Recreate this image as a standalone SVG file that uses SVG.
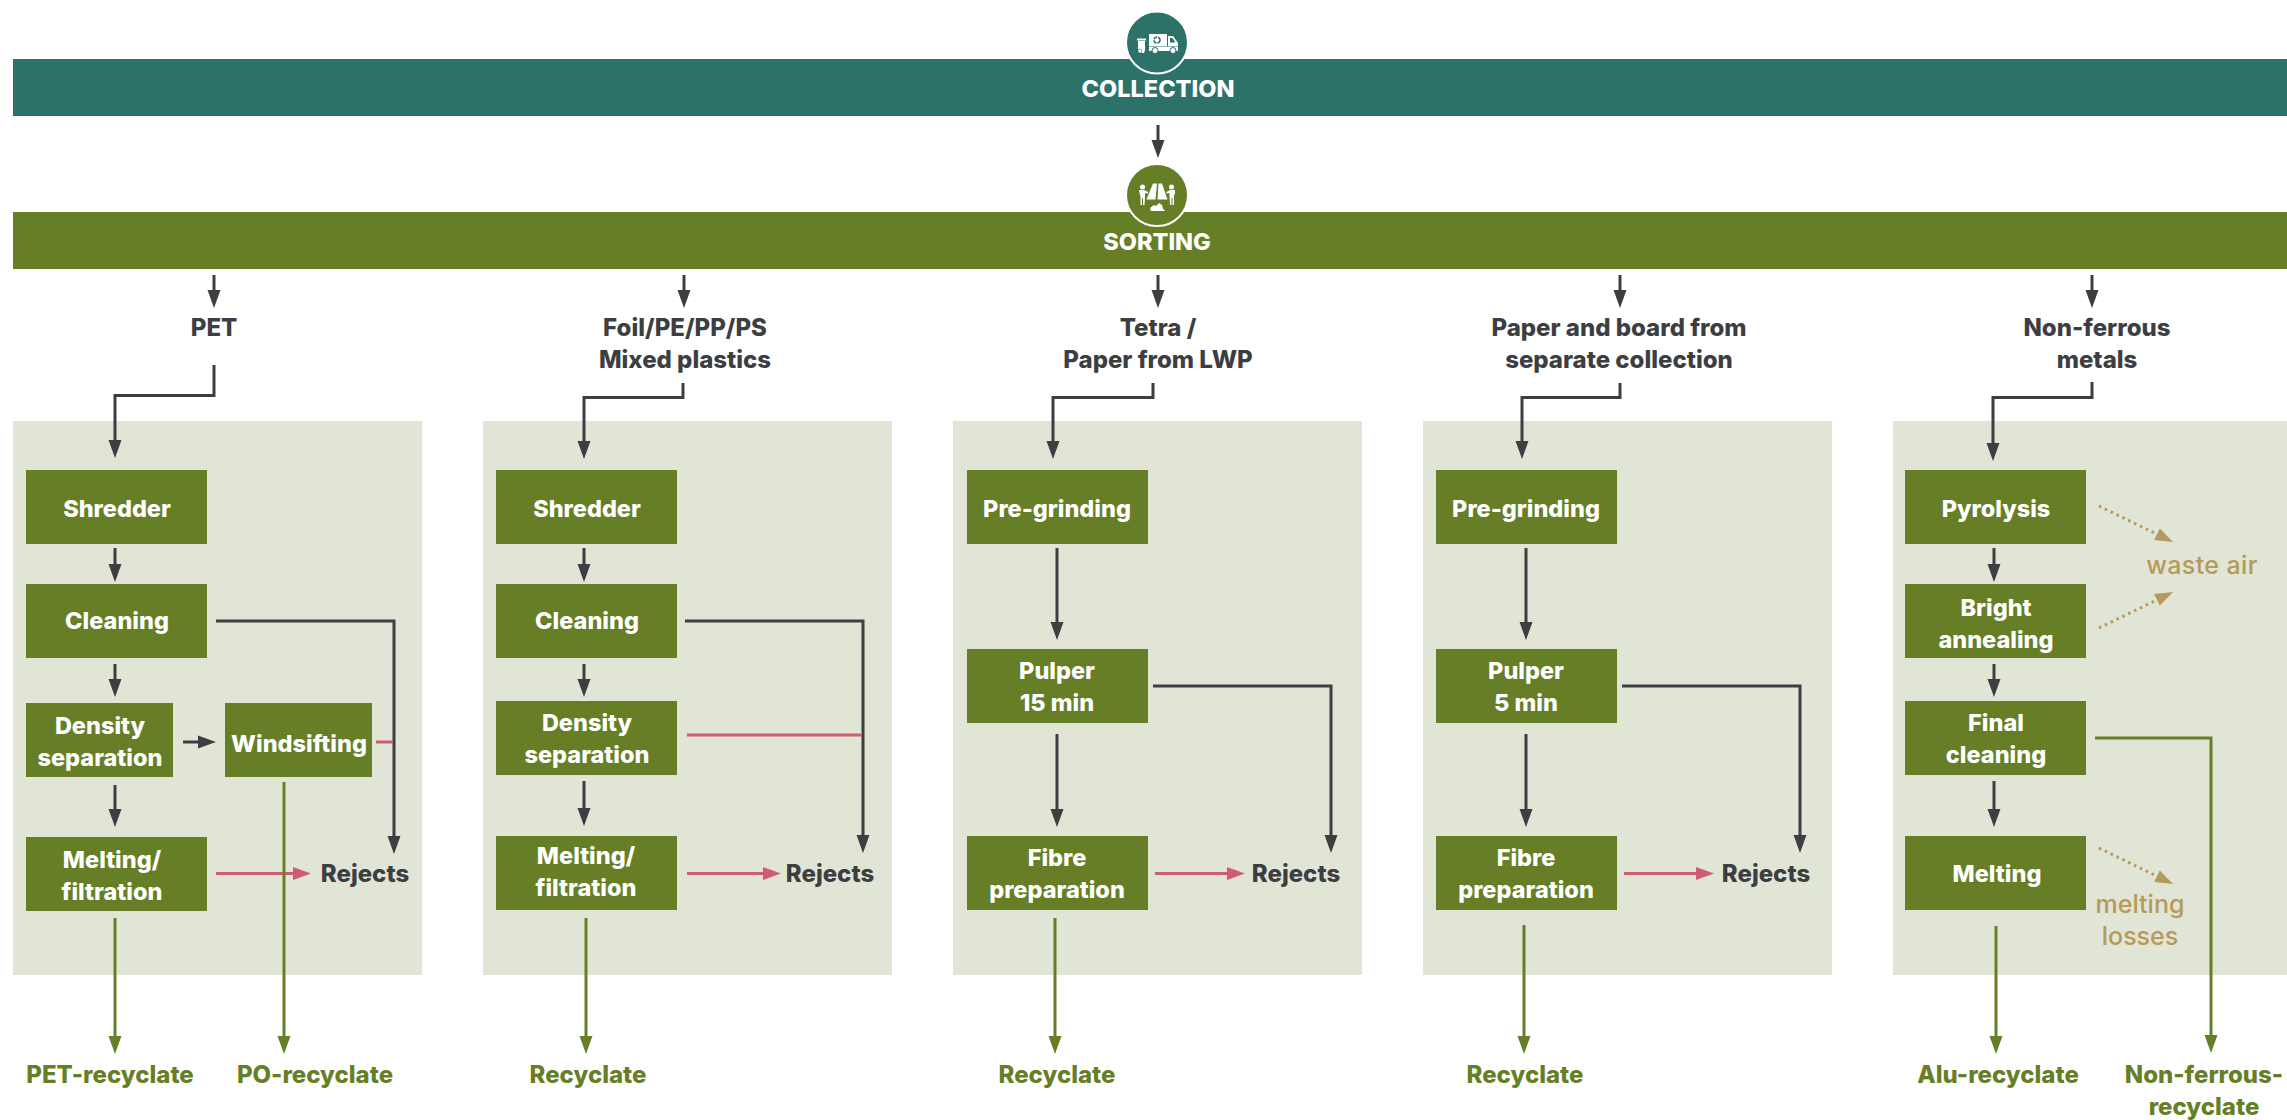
<svg xmlns="http://www.w3.org/2000/svg" width="2287" height="1120" viewBox="0 0 2287 1120">
<style>
text{font-family:"Inter","Liberation Sans",sans-serif;font-weight:800;font-size:23.500px;text-anchor:middle}
.w{fill:#fff}.d{fill:#3d3e42;font-size:24px}.g{fill:#667f26;font-size:24px}.r{fill:#b59a5b;font-weight:500;font-size:25px}
.b{fill:#667f26}.p{fill:#e1e5d5}
.cd,.cg,.cp,.ct{fill:none;stroke-width:3}
.cd{stroke:#3d3e42;marker-end:url(#ad)}
.cg{stroke:#667f26;marker-end:url(#ag)}
.cp{stroke:#cf5c76;marker-end:url(#ap)}.cpn{stroke:#cf5c76;fill:none;stroke-width:3}
.ct{stroke:#b59a5b;stroke-dasharray:2.5 4;marker-end:url(#at)}
</style>
<defs>
<marker id="ad" markerUnits="userSpaceOnUse" markerWidth="20" markerHeight="14" refX="2" refY="7" orient="auto"><path d="M0,0.5L18,7L0,13.5z" fill="#3d3e42"/></marker>
<marker id="ag" markerUnits="userSpaceOnUse" markerWidth="20" markerHeight="14" refX="2" refY="7" orient="auto"><path d="M0,0.5L18,7L0,13.5z" fill="#667f26"/></marker>
<marker id="ap" markerUnits="userSpaceOnUse" markerWidth="20" markerHeight="14" refX="2" refY="7" orient="auto"><path d="M0,0.5L18,7L0,13.5z" fill="#cf5c76"/></marker>
<marker id="at" markerUnits="userSpaceOnUse" markerWidth="20" markerHeight="14" refX="2" refY="7" orient="auto"><path d="M0,0.5L18,7L0,13.5z" fill="#b59a5b"/></marker>
</defs>
<rect width="2287" height="1120" fill="#fff"/>
<g id="panels">
<rect class="p" x="13" y="421" width="409" height="554"/>
<rect class="p" x="483" y="421" width="409" height="554"/>
<rect class="p" x="953" y="421" width="409" height="554"/>
<rect class="p" x="1423" y="421" width="409" height="554"/>
<rect class="p" x="1893" y="421" width="394" height="554"/>
</g>
<g id="collection">
<rect x="13" y="59" width="2274" height="57" fill="#2d7268"/>
<circle cx="1157" cy="42.500" r="31" fill="#2d7268" stroke="#fff" stroke-width="2"/>
<g fill="#fff">
<path d="M1137,38.500h9v2h-9zM1138,41h7v9l-1,3h-5l-1,-3z"/>
<path d="M1149,34h18v12h-18zM1149,46.500h29v4.500h-29z"/>
<path d="M1168,36h5l5,7v3h-10z"/>
</g>
<path d="M1170,38h2.500l3,4.500h-5.500z" fill="#2d7268"/>
<circle cx="1157" cy="40" r="3" fill="none" stroke="#2d7268" stroke-width="1.500" stroke-dasharray="4 1"/>
<circle cx="1155" cy="50.500" r="3" fill="#fff" stroke="#2d7268"/><circle cx="1173" cy="50.500" r="3" fill="#fff" stroke="#2d7268"/>
<circle cx="1140" cy="51" r="2" fill="#fff" stroke="#2d7268" stroke-width=".6"/>
<text class="w" x="1158" y="97">COLLECTION</text>
</g>
<g id="sorting">
<rect x="13" y="212" width="2274" height="57" fill="#667f26"/>
<circle cx="1157" cy="195" r="31" fill="#667f26" stroke="#fff" stroke-width="2"/>
<g fill="#fff">
<path d="M1153,183.500h4l-1.500,16h-9zM1158.500,183.500h3.500l5.500,16h-10z"/>
<circle cx="1142.500" cy="187" r="2.500"/><circle cx="1171.500" cy="187" r="2.500"/>
<path d="M1139,190h5l4,2v1.500l-3,-.5v3l-.5,9h-1.500v-7h-1v7h-1.500v-9l-1,-3zM1175,190h-5l-3.500,2v1.500l3,-.5v3l.5,9h1.500v-7h1v7h1.500v-9l1,-3z"/>
<path d="M1150,208l4,-3l2,1l3,-3l3,2l1,4l2,1l-1,1h-13z"/>
</g>
<text class="w" x="1157" y="250">SORTING</text>
</g>
<g id="connectors">
<path class="cd" d="M1158,125V142"/>
<path class="cd" d="M214,275V292"/><path class="cd" d="M684,275V292"/><path class="cd" d="M1158,275V292"/><path class="cd" d="M1620,275V292"/><path class="cd" d="M2092,275V292"/>
<path class="cd" d="M214,365V395.500H115V442"/>
<path class="cd" d="M115,548V566"/><path class="cd" d="M115,664V681"/><path class="cd" d="M115,785V811"/>
<path class="cd" d="M183,742H200"/>
<path class="cd" d="M216,621H394V838"/>
<path class="cpn" d="M376,742H393"/>
<path class="cp" d="M216,873.500H295"/>
<path class="cg" d="M115,918V1038"/><path class="cg" d="M284,782V1038"/>
<path class="cd" d="M683,383V397.500H584V443"/>
<path class="cd" d="M584,548V566"/><path class="cd" d="M584,664V681"/><path class="cd" d="M584,781V810"/>
<path class="cd" d="M685,621H863V837"/>
<path class="cpn" d="M687,735H862"/>
<path class="cp" d="M687,873.500H765"/>
<path class="cg" d="M586,918V1038"/>
<path class="cd" d="M1153,383V397.500H1053V443"/>
<path class="cd" d="M1057,548V624"/><path class="cd" d="M1057,734V811"/>
<path class="cd" d="M1153,686H1331V837"/>
<path class="cp" d="M1155,873.500H1229"/>
<path class="cg" d="M1055,918V1038"/>
<path class="cd" d="M1620,383V397.500H1522V443"/>
<path class="cd" d="M1526,548V624"/><path class="cd" d="M1526,734V811"/>
<path class="cd" d="M1622,686H1800V837"/>
<path class="cp" d="M1624,873.500H1698"/>
<path class="cg" d="M1524,925V1038"/>
<path class="cd" d="M2092,382V397.500H1993V445"/>
<path class="cd" d="M1994,548V566"/><path class="cd" d="M1994,664V681"/><path class="cd" d="M1994,781V811"/>
<path class="cg" d="M2095,738H2211V1037"/>
<path class="cg" d="M1996,926V1038"/>
<path class="ct" d="M2099,506L2158.600,535"/><path class="ct" d="M2099,628L2158.600,599"/><path class="ct" d="M2099,848L2158.600,877"/>
</g>
<g id="labels-top">
<text class="d" x="214" y="336">PET</text>
<text class="d" x="685" y="336">Foil/PE/PP/PS</text><text class="d" x="685" y="368">Mixed plastics</text>
<text class="d" x="1158" y="336">Tetra /</text><text class="d" x="1158" y="368">Paper from LWP</text>
<text class="d" x="1619" y="336">Paper and board from</text><text class="d" x="1619" y="368">separate collection</text>
<text class="d" x="2097" y="336">Non-ferrous</text><text class="d" x="2097" y="368">metals</text>
</g>
<g id="pet-nodes">
<g id="n-shredder1"><rect class="b" x="26" y="470" width="181" height="74"/><text class="w" x="117" y="517">Shredder</text></g>
<g id="n-cleaning1"><rect class="b" x="26" y="584" width="181" height="74"/><text class="w" x="117" y="629">Cleaning</text></g>
<g id="n-density1"><rect class="b" x="26" y="703" width="147" height="74"/><text class="w" x="100" y="734">Density</text><text class="w" x="100" y="766">separation</text></g>
<g id="n-wind"><rect class="b" x="225" y="703" width="147" height="74"/><text class="w" x="299" y="752">Windsifting</text></g>
<g id="n-melt1"><rect class="b" x="26" y="837" width="181" height="74"/><text class="w" x="112" y="868">Melting/</text><text class="w" x="112" y="900">filtration</text></g>
<text class="d" x="365" y="882">Rejects</text>
</g>
<g id="plastic-nodes">
<g id="n-shredder2"><rect class="b" x="496" y="470" width="181" height="74"/><text class="w" x="587" y="517">Shredder</text></g>
<g id="n-cleaning2"><rect class="b" x="496" y="584" width="181" height="74"/><text class="w" x="587" y="629">Cleaning</text></g>
<g id="n-density2"><rect class="b" x="496" y="701" width="181" height="74"/><text class="w" x="587" y="731">Density</text><text class="w" x="587" y="763">separation</text></g>
<g id="n-melt2"><rect class="b" x="496" y="836" width="181" height="74"/><text class="w" x="586" y="864">Melting/</text><text class="w" x="586" y="896">filtration</text></g>
<text class="d" x="830" y="882">Rejects</text>
</g>
<g id="tetra-nodes">
<g id="n-pre3"><rect class="b" x="967" y="470" width="181" height="74"/><text class="w" x="1057" y="517">Pre-grinding</text></g>
<g id="n-pulp3"><rect class="b" x="967" y="649" width="181" height="74"/><text class="w" x="1057" y="679">Pulper</text><text class="w" x="1057" y="711">15 min</text></g>
<g id="n-fibre3"><rect class="b" x="967" y="836" width="181" height="74"/><text class="w" x="1057" y="866">Fibre</text><text class="w" x="1057" y="898">preparation</text></g>
<text class="d" x="1296" y="882">Rejects</text>
</g>
<g id="paper-nodes">
<g id="n-pre4"><rect class="b" x="1436" y="470" width="181" height="74"/><text class="w" x="1526" y="517">Pre-grinding</text></g>
<g id="n-pulp4"><rect class="b" x="1436" y="649" width="181" height="74"/><text class="w" x="1526" y="679">Pulper</text><text class="w" x="1526" y="711">5 min</text></g>
<g id="n-fibre4"><rect class="b" x="1436" y="836" width="181" height="74"/><text class="w" x="1526" y="866">Fibre</text><text class="w" x="1526" y="898">preparation</text></g>
<text class="d" x="1766" y="882">Rejects</text>
</g>
<g id="metal-nodes">
<g id="n-pyro"><rect class="b" x="1905" y="470" width="181" height="74"/><text class="w" x="1996" y="517">Pyrolysis</text></g>
<g id="n-bright"><rect class="b" x="1905" y="584" width="181" height="74"/><text class="w" x="1996" y="616">Bright</text><text class="w" x="1996" y="648">annealing</text></g>
<g id="n-final"><rect class="b" x="1905" y="701" width="181" height="74"/><text class="w" x="1996" y="731">Final</text><text class="w" x="1996" y="763">cleaning</text></g>
<g id="n-melt5"><rect class="b" x="1905" y="836" width="181" height="74"/><text class="w" x="1997" y="882">Melting</text></g>
<text class="r" x="2202" y="574" style="letter-spacing:.4px">waste air</text>
<text class="r" x="2140" y="913">melting</text><text class="r" x="2140" y="945">losses</text>
</g>
<g id="outputs">
<text class="g" x="110" y="1083">PET-recyclate</text>
<text class="g" x="315" y="1083">PO-recyclate</text>
<text class="g" x="588" y="1083">Recyclate</text>
<text class="g" x="1057" y="1083">Recyclate</text>
<text class="g" x="1525" y="1083">Recyclate</text>
<text class="g" x="1998" y="1083">Alu-recyclate</text>
<text class="g" x="2204" y="1083">Non-ferrous-</text><text class="g" x="2204" y="1115">recyclate</text>
</g>
</svg>
